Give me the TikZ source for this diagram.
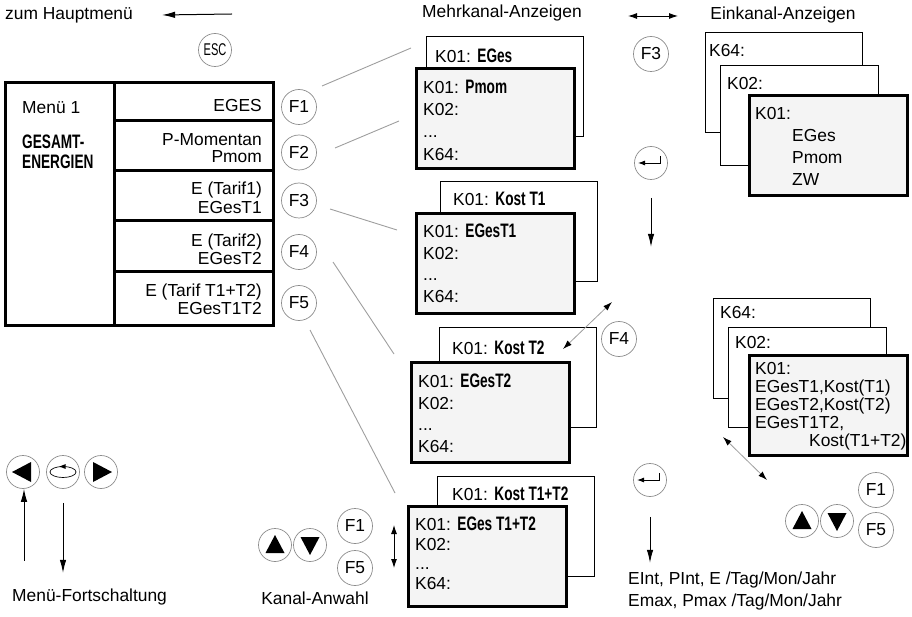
\documentclass[tikz,border=0pt]{standalone}
\usepackage{fontspec}
\setmainfont{Liberation Sans}
\newfontfamily\condsans[FakeStretch=0.70,Scale=1.12]{Liberation Sans}
\newfontfamily\narrowsans[FakeStretch=0.65]{Liberation Sans}
\usetikzlibrary{arrows.meta,positioning,calc}
\definecolor{panelgray}{gray}{0.955}
\definecolor{keygray}{gray}{0.55}
\definecolor{leadgray}{gray}{0.62}
\newcommand\kbold[1]{{\condsans\bfseries #1}}
% filled key symbols, #1 = key node
\newcommand\uptri[1]{\fill ($(#1)+(-9.5,8)$) -- ++(19,0) -- ++(-9.5,-18) -- cycle;}
\newcommand\downtri[1]{\fill ($(#1)+(-9.5,-8)$) -- ++(19,0) -- ++(-9.5,18) -- cycle;}
\newcommand\lefttri[1]{\fill ($(#1)+(8,-10)$) -- ++(0,20) -- ++(-19,-10) -- cycle;}
\newcommand\righttri[1]{\fill ($(#1)+(-8,-10)$) -- ++(0,20) -- ++(19,-10) -- cycle;}
\newcommand\enterkey[1]{\draw[line width=0.9pt,-{Latex[length=7pt,width=5pt]}]
   ($(#1)+(9,-7)$) -- ++(0,7) -- ++(-22,0);}

\begin{document}
\begin{tikzpicture}[x=1pt,y=-1pt,font=\fontsize{17.4}{21}\selectfont,
   key/.style={circle,draw=keygray,line width=0.7pt,minimum size=35pt,inner sep=0pt},
   skey/.style={key,minimum size=33pt},
   screen/.style={draw,line width=1pt,fill=white,minimum width=157pt,minimum height=100pt,
                  anchor=north west,inner sep=0pt},
   front/.style={screen,line width=2.8pt,fill=panelgray,minimum width=158pt},
   txt/.style={anchor=north west,inner sep=0pt,align=left},
   rtxt/.style={anchor=north east,inner sep=0pt,align=right,font=\fontsize{17.4}{18}\selectfont},
   lead/.style={draw=leadgray,line width=0.9pt},
   arr/.style={-{Latex[length=13pt,width=6.5pt]},line width=1pt},
   dbl/.style={{Latex[length=9pt,width=6pt]}-{Latex[length=9pt,width=6pt]},line width=0.9pt},
   gdbl/.style={{Latex[length=9pt,width=6pt,color=black]}-{Latex[length=9pt,width=6pt,color=black]},
                draw=leadgray,line width=0.8pt}]
  \useasboundingbox (0,0) rectangle (912,617);

  % top line
  \node[anchor=west,inner sep=0pt] (home) at (5,15) {zum Hauptmenü};
  \coordinate (escout) at (232,14);
  \draw[arr] (escout) -- ([xshift=29pt]home.east);
  \node[skey,font=\narrowsans\fontsize{17}{17}\selectfont] (esc) at (215,50) {ESC};
  \node (mehr) at (502,13) {Mehrkanal-Anzeigen};
  \node (ein) at (783,15) {Einkanal-Anzeigen};
  \coordinate (swl) at (628,16);
  \coordinate (swr) at (678,16);
  \draw[dbl] (swl) -- (swr);

  % menu
  \draw[line width=3pt] (5,83) rectangle (273,325);
  \draw[line width=3pt] (114,83) -- (114,325);
  \foreach \y in {121,171,221,272}
    \draw[line width=3pt] (114,\y) -- (273,\y);
  \node[txt] (menu) at (22,101.7) {Menü 1};
  \node[txt,font=\fontsize{17.4}{20}\selectfont] (group) at (22,134.7) {\kbold{GESAMT-}\\\kbold{ENERGIEN}};
  \node[rtxt] (m1) at (262,98.7) {EGES};
  \node[rtxt,font=\fontsize{17.4}{17}\selectfont] (m2) at (262,133.7) {P-Momentan\\Pmom};
  \node[rtxt,font=\fontsize{17.4}{19}\selectfont] (m3) at (262,181.7) {E (Tarif1)\\EGesT1};
  \node[rtxt] (m4) at (262,233.7) {E (Tarif2)\\EGesT2};
  \node[rtxt] (m5) at (262,283.7) {E (Tarif T1+T2)\\EGesT1T2};
  \foreach \i/\y in {1/107,2/152.5,3/200.5,4/252,5/303}
    \node[key] (F\i) at (299,\y) {F\i};

  % multi-channel screens
  \node[screen] (g1b) at (426,36) {};
  \node[txt] (g1bt) at ($(g1b.north west)+(9,12.7)$) {K01: \kbold{EGes}};
  \node[front] (g1f) at (415,67) {};
  \node[txt,font=\fontsize{17.4}{22.3}\selectfont] (g1ft) at ($(g1f.north west)+(8,12.7)$)
       {K01: \kbold{Pmom}\\K02:\\...\\K64:};
  \node[screen] (g2b) at (440,181) {};
  \node[txt] (g2bt) at ($(g2b.north west)+(13,10.7)$) {K01: \kbold{Kost T1}};
  \node[front] (g2f) at (415,212) {};
  \node[txt,font=\fontsize{17.4}{21.7}\selectfont] (g2ft) at ($(g2f.north west)+(8,11.7)$)
       {K01: \kbold{EGesT1}\\K02:\\...\\K64:};
  \node[screen] (g3b) at (439,327) {};
  \node[txt] (g3bt) at ($(g3b.north west)+(13,13.7)$) {K01: \kbold{Kost T2}};
  \node[front] (g3f) at (410,361) {};
  \node[txt,font=\fontsize{17.4}{21.7}\selectfont] (g3ft) at ($(g3f.north west)+(8,12.7)$)
       {K01: \kbold{EGesT2}\\K02:\\...\\K64:};
  \node[screen] (g4b) at (437,476) {};
  \node[txt] (g4bt) at ($(g4b.north west)+(15,10.7)$) {K01: \kbold{Kost T1+T2}};
  \node[front] (g4f) at (407,505) {};
  \node[txt,font=\fontsize{17.4}{19.7}\selectfont] (g4ft) at ($(g4f.north west)+(8,11.7)$)
       {K01: \kbold{EGes T1+T2}\\K02:\\...\\K64:};

  % leads from the F keys
  \coordinate (t1) at (411,48);
  \coordinate (t2) at (399,121);
  \coordinate (t3) at (397,230);
  \coordinate (t4) at (394,354);
  \coordinate (t5) at (395,493);
  \foreach \i/\sx/\sy in {1/23/-21,2/36/-4.5,3/31/8.5,4/34/10,5/11/27}
    \draw[lead] (F\i) ++(\sx,\sy) -- (t\i);

  % single-channel screens
  \node[screen] (s1c) at (705,32) {};
  \node[txt] (s1ct) at ($(s1c.north west)+(4,11.7)$) {K64:};
  \node[screen,minimum width=158pt] (s1b) at (720,65) {};
  \node[txt] (s1bt) at ($(s1b.north west)+(7,11.7)$) {K02:};
  \node[front] (s1a) at (748,94) {};
  \node[txt,font=\fontsize{17.4}{22.3}\selectfont] (s1at) at ($(s1a.north west)+(7,12.7)$)
       {K01:\\\hspace*{37pt}EGes\\\hspace*{37pt}Pmom\\\hspace*{37pt}ZW};
  \node[screen] (s2c) at (713,298) {};
  \node[txt] (s2ct) at ($(s2c.north west)+(7,7.7)$) {K64:};
  \node[screen,minimum width=158pt] (s2b) at (728,327) {};
  \node[txt] (s2bt) at ($(s2b.north west)+(7,8.7)$) {K02:};
  \node[front] (s2a) at (748,354) {};
  \node[txt,font=\fontsize{17.4}{18}\selectfont] (s2at) at ($(s2a.north west)+(7,7.7)$)
       {K01:\\EGesT1,Kost(T1)\\EGesT2,Kost(T2)\\EGesT1T2,\\\hspace*{54pt}Kost(T1+T2)};

  % middle column keys
  \node[key] (F3b) at (651,54) {F3};
  \node[skey] (ent1) at (651,163) {};
  \enterkey{ent1}
  \draw[arr] ([yshift=-18pt]ent1.south) -- ++(0,49);
  \node[key] (F4b) at (619,339) {F4};
  \coordinate (k2a) at (563,349);
  \coordinate (k2b) at (612,302);
  \draw[gdbl] (k2a) -- (k2b);
  \node[skey] (ent2) at (650,480) {};
  \enterkey{ent2}
  \draw[arr] ([yshift=-20pt]ent2.south) -- ++(0,46);
  \node[txt,font=\fontsize{17.4}{22}\selectfont] (result) at (628,571.7)
       {EInt, PInt, E /Tag/Mon/Jahr\\Emax, Pmax /Tag/Mon/Jahr};

  % single-channel selection
  \coordinate (d1) at (723,437);
  \coordinate (d2) at (767,480);
  \draw[gdbl] (d1) -- (d2);
  \node[skey] (up2) at (802,521) {};
  \node[skey] (dn2) at (837,521) {};
  \uptri{up2}
  \downtri{dn2}
  \node[key] (F1c) at (876,490) {F1};
  \node[key] (F5c) at (876,530) {F5};

  % channel selection
  \node[skey] (up1) at (275,545) {};
  \node[skey] (dn1) at (310,545) {};
  \uptri{up1}
  \downtri{dn1}
  \node[key] (F1b) at (355,526) {F1};
  \node[key] (F5b) at (355,568) {F5};
  \coordinate (v1) at (394,525);
  \coordinate (v2) at (394,568);
  \draw[dbl] (v1) -- (v2);
  \node (kanal) at (315,598) {Kanal-Anwahl};

  % menu stepping
  \node[skey] (lt) at (23,472) {};
  \node[skey] (mid) at (63,472) {};
  \node[skey] (rt) at (101,472) {};
  \lefttri{lt}
  \righttri{rt}
  \draw[line width=0.7pt] (mid) ellipse [x radius=13, y radius=5.5];
  \fill ($(mid)+(-3.5,-5.5)$) -- ++(6,-2.4) -- ++(0,4.8) -- cycle;
  \draw[arr] ([yshift=-23pt]lt.south) ++(1,49) -- ++(0,-72);
  \draw[arr] ([yshift=-14pt]mid.south) -- ++(0,70);
  \node[anchor=west,inner sep=0pt] (fort) at (12,597) {Menü-Fortschaltung};
\end{tikzpicture}
\end{document}
